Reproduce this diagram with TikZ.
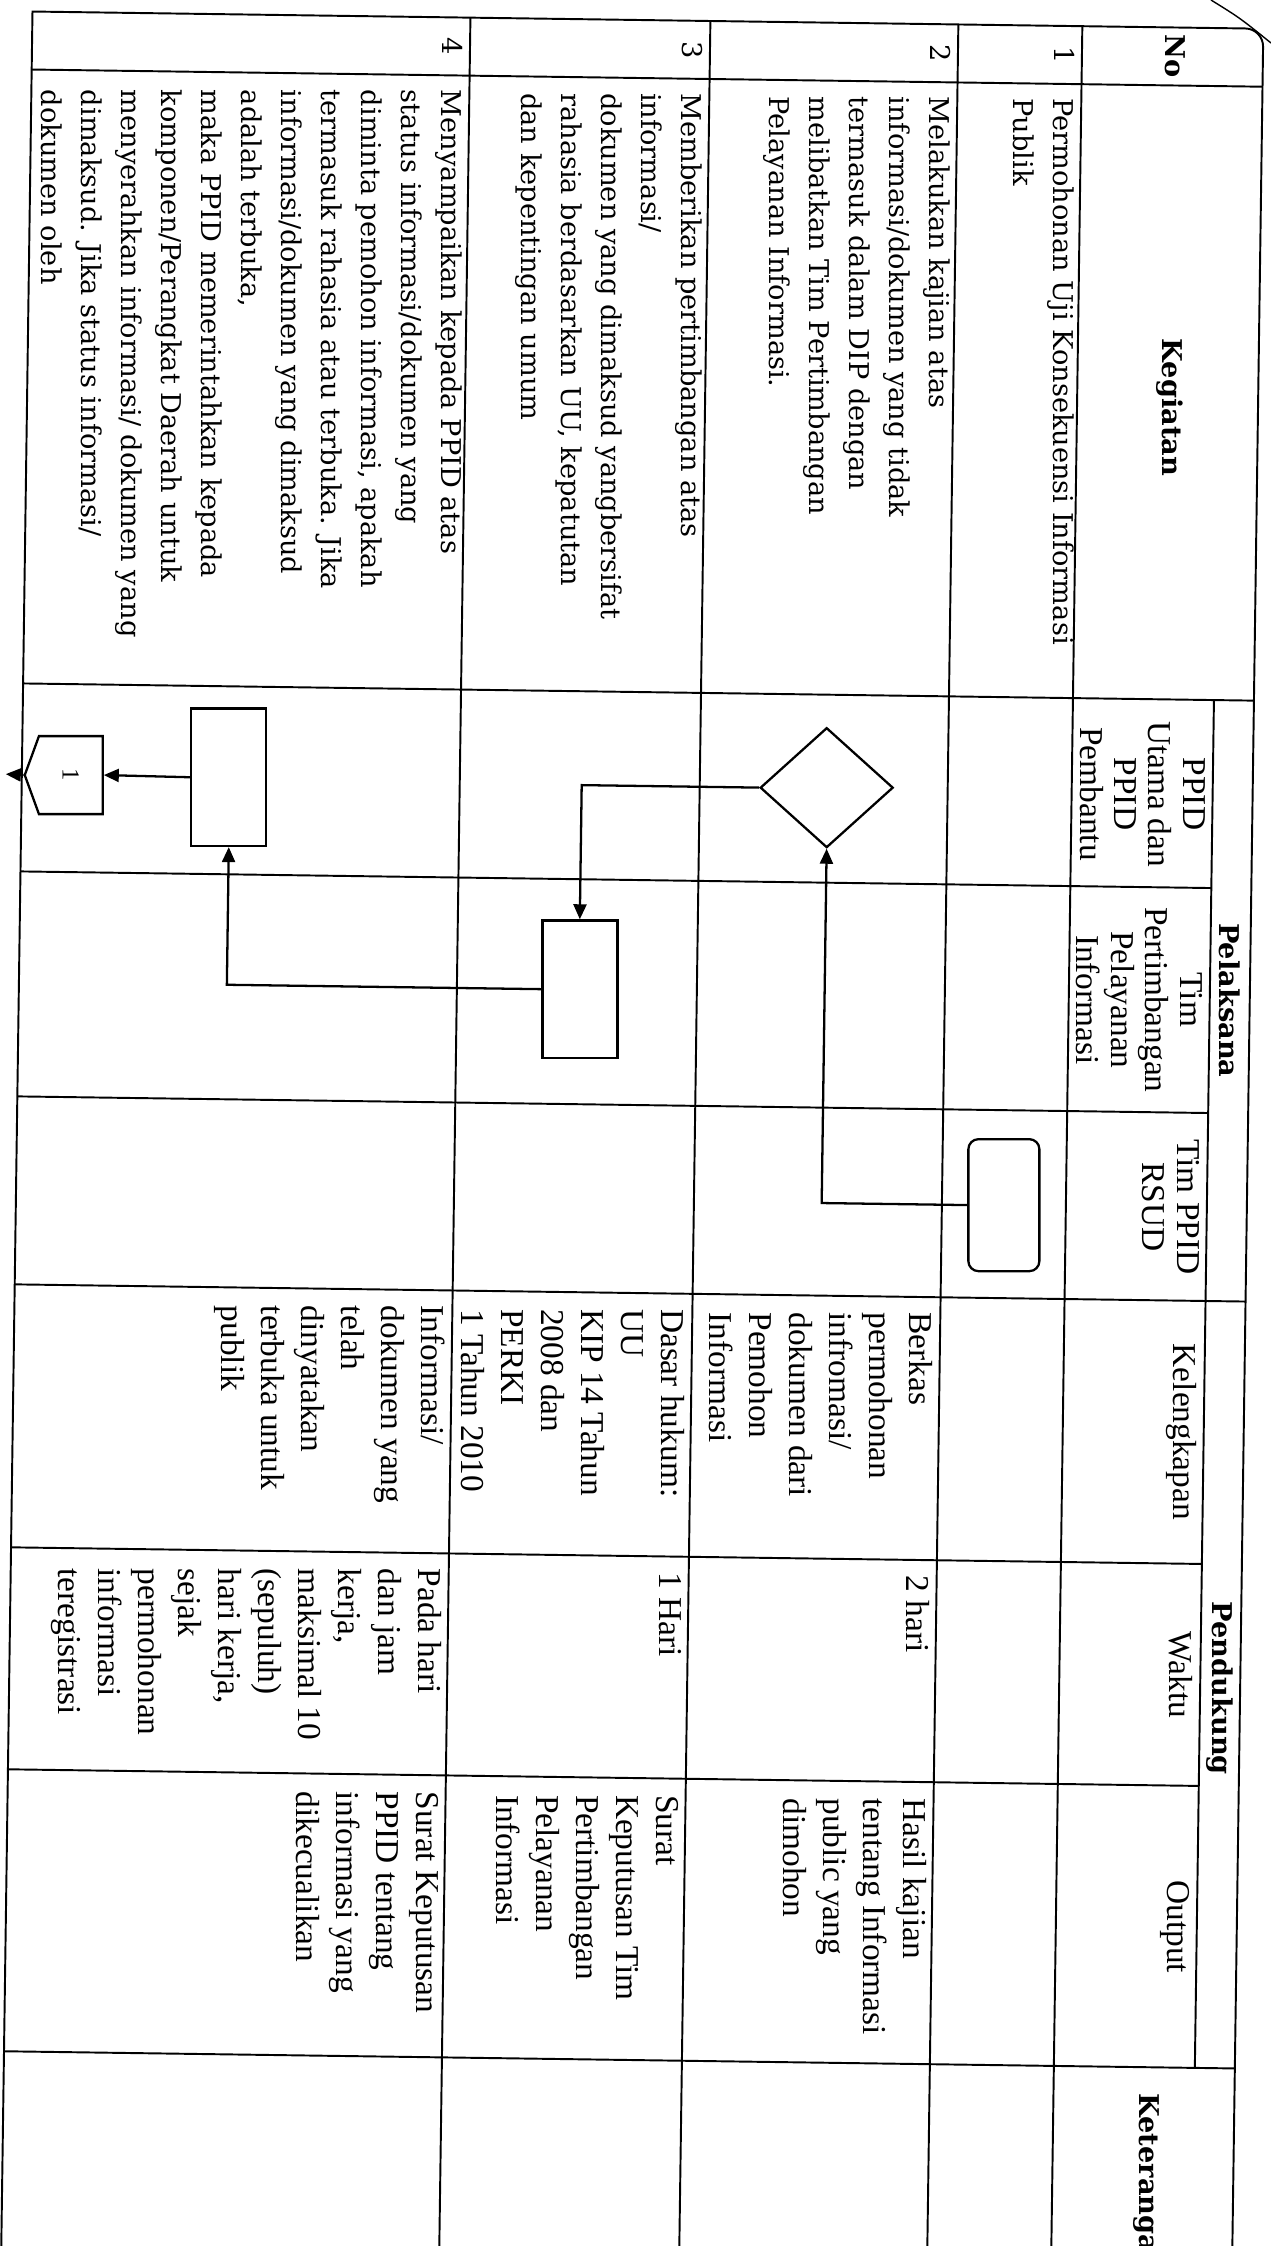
\documentclass[tikz,border=0pt]{standalone}
\usepackage{fontspec}
\setmainfont{Liberation Serif}
\newfontfamily\bookfont{DejaVu Serif}
\usetikzlibrary{arrows.meta,shapes.geometric,shapes.symbols}

\newcommand{\tnrbody}{\fontsize{19}{22.76}\selectfont}
\newcommand{\tnrhead}{\fontsize{19}{19.6}\selectfont}
\newcommand{\bkbody}{\bookfont\fontsize{15.5}{22.76}\selectfont}
\newcommand{\bkhead}{\bookfont\bfseries\fontsize{15.5}{18}\selectfont}

\begin{document}
\begin{tikzpicture}[x=0.02cm, y=-0.02cm,
		rule/.style={line width=1.1pt},
		cell/.style={rotate=-90, anchor=north west, inner sep=0pt, align=left, font=\tnrbody},
		activity/.style={cell, font=\bkbody},
		subhead/.style={rotate=-90, anchor=north, inner sep=0pt, align=center, font=\tnrhead},
		mainhead/.style={rotate=-90, inner sep=0pt, font=\bkhead},
		process/.style={draw, line width=1.3pt, minimum width=1.5cm, minimum height=2.75cm, inner sep=0pt},
		terminal/.style={process, rounded corners=0.2cm, minimum width=1.42cm, minimum height=2.64cm},
		decision/.style={draw, diamond, line width=1.3pt, minimum width=2.66cm, minimum height=2.4cm, inner sep=0pt},
		offpage/.style={draw, signal, signal to=south, signal pointer angle=140, rotate=-90, line width=1.3pt, minimum width=1.56cm, minimum height=1.32cm, inner sep=0pt, font=\fontsize{14}{14}\selectfont},
		flow/.style={line width=1.3pt, -{Triangle[length=0.3cm,width=0.26cm]}}]
	\useasboundingbox (0,0) rectangle (1271,2246);
	\fill[white] (0,0) rectangle (1271,2246);
	\clip (0,0) rectangle (1271,2246);

	%––––– page edge –––––
	\draw[line width=0.8pt] (1211,0) .. controls (1240,18) .. (1271,43);

	\begin{scope}[rotate around={-0.8:(635,1123)}]
		%––––– table rules –––––
		\draw[rule] (17,2330) -- (17,20) -- (1230,20) to[out=0,in=90] (1248,38) -- (1248,2330);
		\foreach \x in {455,695,943,1067}
			\draw[rule] (\x,20) -- (\x,2330);
		\draw[rule] (1208,692) -- (1208,2060);
		\foreach \y in {78,692,1293,2060}
			\draw[rule] (17,\y) -- (1248,\y);
		\foreach \y in {880,1105,1556,1778}
			\draw[rule] (17,\y) -- (1208,\y);

		%––––– header –––––
		\node[mainhead] (no) at (1160,49) {No};
		\node[mainhead] (kegiatan) at (1160,400) {Kegiatan};
		\node[mainhead] (pelaksana) at (1228,992) {Pelaksana};
		\node[mainhead] (pendukung) at (1228,1680) {Pendukung};
		\node[mainhead, anchor=west] (keterangan) at (1160,2086) {Keterangan};
		\node[subhead] (ppid) at (1201,786) {PPID\\Utama dan\\PPID\\Pembantu};
		\node[subhead] (timpert) at (1201,992) {Tim\\Pertimbangan\\Pelayanan\\Informasi};
		\node[subhead] (timrsud) at (1201,1199) {Tim PPID\\RSUD};
		\node[subhead] (kelengkapan) at (1201,1424) {Kelengkapan};
		\node[subhead] (waktu) at (1201,1667) {Waktu};
		\node[subhead] (output) at (1201,1919) {Output};

		%––––– row 1 –––––
		\node[activity, anchor=north] (n1) at (1060,49) {1};
		\node[activity] (k1) at (1060,92) {Permohonan Uji Konsekuensi Informasi\\Publik};

		%––––– row 2 –––––
		\node[activity, anchor=north] (n2) at (936,49) {2};
		\node[activity] (k2) at (936,92) {Melakukan kajian atas\\informasi/dokumen yang tidak\\termasuk dalam DIP dengan\\melibatkan Tim Pertimbangan\\Pelayanan Informasi.};
		\node[cell] (lk2) at (936,1308) {Berkas\\permohonan\\infromasi/\\dokumen dari\\Pemohon\\Informasi};
		\node[cell] (wk2) at (936,1571) {2 hari};
		\node[cell] (out2) at (936,1794) {Hasil kajian\\tentang Informasi\\public yang\\dimohon};

		%––––– row 3 –––––
		\node[activity, anchor=north] (n3) at (688,49) {3};
		\node[activity] (k3) at (688,92) {Memberikan pertimbangan atas\\informasi/\\dokumen yang dimaksud yangbersifat\\rahasia berdasarkan UU, kepatutan\\dan kepentingan umum};
		\node[cell] (lk3) at (688,1308) {Dasar hukum:\\UU\\KIP 14 Tahun\\2008 dan\\PERKI\\1 Tahun 2010};
		\node[cell] (wk3) at (688,1571) {1 Hari};
		\node[cell] (out3) at (688,1794) {Surat\\Keputusan Tim\\Pertimbangan\\Pelayanan\\Informasi};

		%––––– row 4 –––––
		\node[activity, anchor=north] (n4) at (448,49) {4};
		\node[activity] (k4) at (448,92) {Menyampaikan kepada PPID atas\\status informasi/dokumen yang\\diminta pemohon informasi, apakah\\termasuk rahasia atau terbuka. Jika\\informasi/dokumen yang dimaksud\\adalah terbuka,\\maka PPID memerintahkan kepada\\komponen/Perangkat Daerah untuk\\menyerahkan informasi/ dokumen yang\\dimaksud. Jika status informasi/\\dokumen oleh};
		\node[cell] (lk4) at (448,1308) {Informasi/\\dokumen yang\\telah\\dinyatakan\\terbuka untuk\\publik};
		\node[cell] (wk4) at (448,1571) {Pada hari\\dan jam\\kerja,\\maksimal 10\\(sepuluh)\\hari kerja,\\sejak\\permohonan\\informasi\\teregistrasi};
		\node[cell] (out4) at (448,1794) {Surat Keputusan\\PPID tentang\\informasi yang\\dikecualikan};

		%––––– flow –––––
		\node[decision] (review) at (822,785) {};
		\node[terminal] (request) at (1005,1200) {};
		\node[process] (consider) at (578,990) {};
		\node[process] (deliver) at (224,783) {};
		\node[offpage] (conn) at (66,783) {1};
		\coordinate (exit) at (1,783);
		\draw[flow] (request.west) -| (review.south);
		\draw[flow] (review.west) -| (consider.north);
		\draw[flow] (consider.west) -| (deliver.south);
		\draw[flow] (deliver.west) -- (conn.north);
		\draw[flow] (conn.south) -- (exit);
	\end{scope}
\end{tikzpicture}
\end{document}
